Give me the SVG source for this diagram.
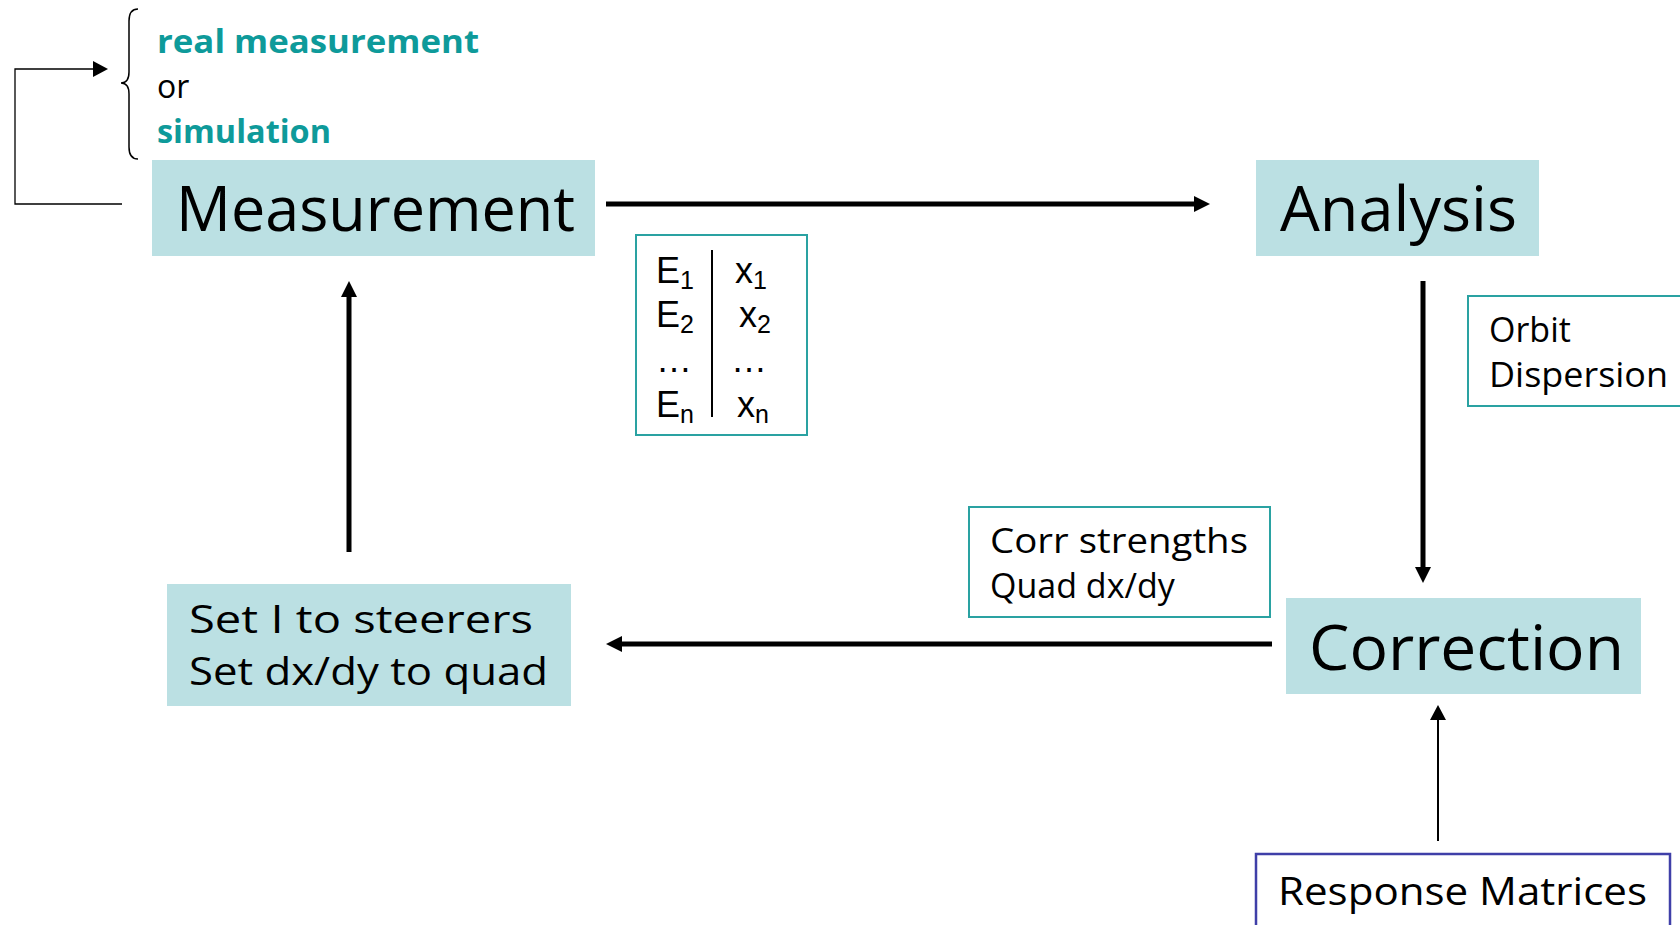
<svg xmlns="http://www.w3.org/2000/svg" width="1680" height="925" viewBox="0 0 1680 925">
<style>
text{font-family:"Open Sans","DejaVu Sans",sans-serif;fill:#000}
.box{fill:#BBE0E3}
.tbox{fill:#fff;stroke:#2AA2A2;stroke-width:2}
.bbox{fill:#fff;stroke:#3F3FA8;stroke-width:2.5}
.thick{stroke:#000;stroke-width:5;fill:none}
.thin{stroke:#000;stroke-width:2;fill:none}
.teal{fill:#0E9A9A;font-weight:bold}
.big{font-size:62px}
.mid{font-size:38px}
.sm{font-size:34px}
.tab{font-family:"Liberation Sans",Arial,sans-serif;font-size:36px}
.sub{font-size:25px}
</style>
<defs>
<marker id="ah" markerUnits="userSpaceOnUse" markerWidth="16" markerHeight="16" refX="0" refY="8" orient="auto">
<path d="M0,0 L16,8 L0,16 z" fill="#000"/>
</marker>
<marker id="ahs" markerUnits="userSpaceOnUse" markerWidth="16" markerHeight="16" refX="0" refY="8" orient="auto">
<path d="M0,0 L15,8 L0,16 z" fill="#000"/>
</marker>
</defs>

<g id="connectors">
<path class="thick" d="M606,204 H1194" marker-end="url(#ah)"/>
<path class="thick" d="M1423,281 V567" marker-end="url(#ah)"/>
<path class="thick" d="M1272,644 H622" marker-end="url(#ah)"/>
<path class="thick" d="M349,552 V297" marker-end="url(#ah)"/>
<path class="thin" d="M1438,841 V720" marker-end="url(#ahs)"/>
<path class="thin" style="stroke-width:1.3" d="M122,204 H15 V69 H93" marker-end="url(#ahs)"/>
</g>

<g id="source-note">
<path d="M138,9 Q129,9 129,21 L129,72 Q129,83 121,83 Q129,83 129,94 L129,147 Q129,159 138,159" fill="none" stroke="#000" stroke-width="1.5"/>
<text class="teal" x="157" y="53" font-size="32" textLength="322" lengthAdjust="spacingAndGlyphs">real measurement</text>
<text x="157" y="98" font-size="32">or</text>
<text class="teal" x="157" y="143" font-size="32" textLength="174" lengthAdjust="spacingAndGlyphs">simulation</text>
</g>

<g id="measurement">
<rect class="box" x="152" y="160" width="443" height="96"/>
<text class="big" x="176" y="231" textLength="399" lengthAdjust="spacingAndGlyphs">Measurement</text>
</g>

<g id="analysis">
<rect class="box" x="1256" y="160" width="283" height="96"/>
<text class="big" x="1280" y="231" textLength="237" lengthAdjust="spacingAndGlyphs">Analysis</text>
</g>

<g id="data-table">
<rect class="tbox" x="636" y="235" width="171" height="200"/>
<line x1="712" y1="250" x2="712" y2="417" stroke="#000" stroke-width="2"/>
<text class="tab" x="656" y="283">E<tspan class="sub" dy="6">1</tspan></text>
<text class="tab" x="656" y="327">E<tspan class="sub" dy="6">2</tspan></text>
<text class="tab" x="656" y="372">…</text>
<text class="tab" x="656" y="417">E<tspan class="sub" dy="6">n</tspan></text>
<text class="tab" x="735" y="283">x<tspan class="sub" dy="6">1</tspan></text>
<text class="tab" x="739" y="327">x<tspan class="sub" dy="6">2</tspan></text>
<text class="tab" x="731" y="372">…</text>
<text class="tab" x="737" y="417">x<tspan class="sub" dy="6">n</tspan></text>
</g>

<g id="orbit-dispersion">
<rect class="tbox" x="1468" y="296" width="230" height="110"/>
<text class="sm" x="1489" y="342">Orbit</text>
<text class="sm" x="1489" y="387" textLength="179" lengthAdjust="spacingAndGlyphs">Dispersion</text>
</g>

<g id="corr-strengths">
<rect class="tbox" x="969" y="507" width="301" height="110"/>
<text class="sm" x="990" y="553" textLength="258" lengthAdjust="spacingAndGlyphs">Corr strengths</text>
<text class="sm" x="990" y="598">Quad dx/dy</text>
</g>

<g id="correction">
<rect class="box" x="1286" y="598" width="355" height="96"/>
<text class="big" x="1309" y="670" textLength="315" lengthAdjust="spacingAndGlyphs">Correction</text>
</g>

<g id="set-steerers">
<rect class="box" x="167" y="584" width="404" height="122"/>
<text class="mid" x="189" y="633" textLength="344" lengthAdjust="spacingAndGlyphs">Set I to steerers</text>
<text class="mid" x="189" y="685" textLength="359" lengthAdjust="spacingAndGlyphs">Set dx/dy to quad</text>
</g>

<g id="response-matrices">
<rect class="bbox" x="1256" y="854" width="414" height="90"/>
<text class="mid" x="1278" y="905" textLength="369" lengthAdjust="spacingAndGlyphs">Response Matrices</text>
</g>
</svg>
